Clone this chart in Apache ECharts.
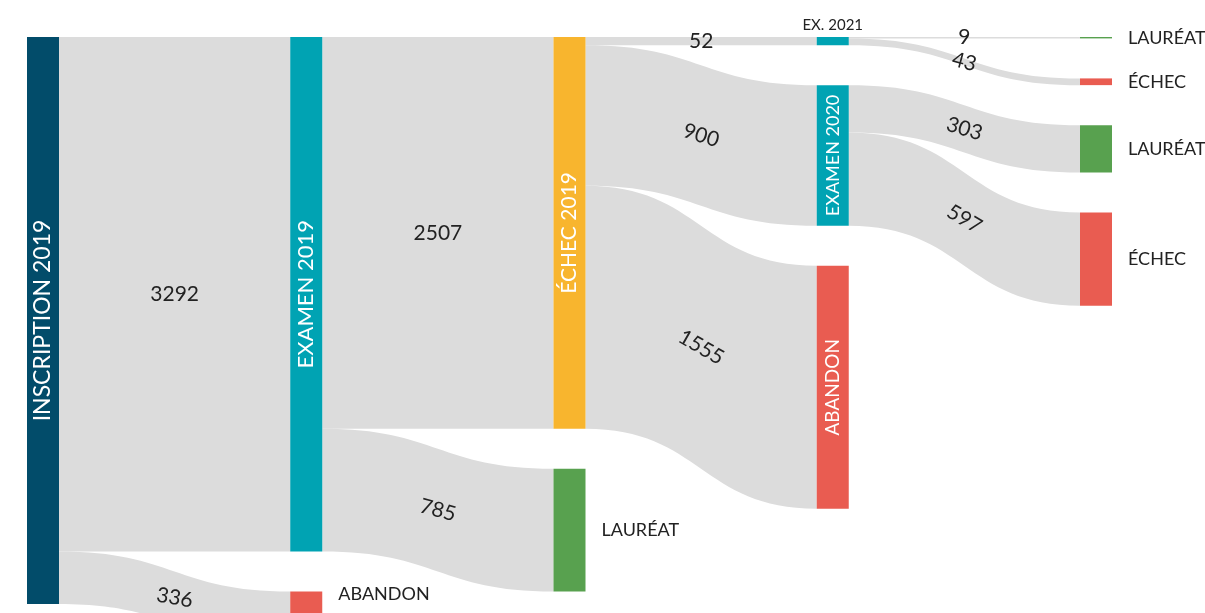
<!DOCTYPE html>
<html>
<head>
<meta charset="utf-8">
<script src="https://cdn.jsdelivr.net/npm/echarts@6/dist/echarts.min.js"></script>
<style>
	html, body { margin: 0; padding: 0; background: #fff; }
	#chart { width: 1205px; height: 613px; }
</style>
</head>
<body>
<div id="chart"></div>
<script>
// noeuds (id unique) et libellés affichés
var nodeIds = ['INSCRIPTION 2019', 'EXAMEN 2019', 'ABANDON 2019', 'ÉCHEC 2019', 'LAURÉAT 2019',
	'EX. 2021', 'EXAMEN 2020', 'ABANDON 2020', 'LAURÉAT 2021', 'ÉCHEC 2021', 'LAURÉAT 2020', 'ÉCHEC 2020'];
var nodeLabels = ['INSCRIPTION 2019', 'EXAMEN 2019', 'ABANDON', 'ÉCHEC 2019', 'LAURÉAT',
	'EX. 2021', 'EXAMEN 2020', 'ABANDON', 'LAURÉAT', 'ÉCHEC', 'LAURÉAT', 'ÉCHEC'];

// flux
var linkSources = ['INSCRIPTION 2019', 'INSCRIPTION 2019', 'EXAMEN 2019', 'EXAMEN 2019',
	'ÉCHEC 2019', 'ÉCHEC 2019', 'ÉCHEC 2019', 'EX. 2021', 'EX. 2021', 'EXAMEN 2020', 'EXAMEN 2020'];
var linkTargets = ['EXAMEN 2019', 'ABANDON 2019', 'ÉCHEC 2019', 'LAURÉAT 2019',
	'EX. 2021', 'EXAMEN 2020', 'ABANDON 2020', 'LAURÉAT 2021', 'ÉCHEC 2021', 'LAURÉAT 2020', 'ÉCHEC 2020'];
var linkValues = [3292, 336, 2507, 785, 52, 900, 1555, 9, 43, 303, 597];

// styles
var colors = {
	'INSCRIPTION 2019': '#024c6a',
	'EXAMEN 2019': '#00a3b3',
	'ABANDON 2019': '#e95c51',
	'ÉCHEC 2019': '#f8b52e',
	'LAURÉAT 2019': '#58a14f',
	'EX. 2021': '#00a3b3',
	'EXAMEN 2020': '#00a3b3',
	'ABANDON 2020': '#e95c51',
	'LAURÉAT 2021': '#58a14f',
	'ÉCHEC 2021': '#e95c51',
	'LAURÉAT 2020': '#58a14f',
	'ÉCHEC 2020': '#e95c51'
};
// libellés verticaux dans les noeuds, taille de police
var insideNodes = {
	'INSCRIPTION 2019': 23,
	'EXAMEN 2019': 22,
	'ÉCHEC 2019': 21,
	'EXAMEN 2020': 18,
	'ABANDON 2020': 19
};
var edgeLabelRotate = [0, -10, 0, -15, 0, -17, -30, 0, -15, -17, -30];
var fontFamily = 'Lato, "Open Sans", sans-serif';

var nodes = [];
for (var i = 0; i < nodeIds.length; i++) {
	var id = nodeIds[i];
	var label;
	if (insideNodes[id]) {
		label = { position: 'inside', rotate: 90, color: '#fff', fontSize: insideNodes[id], formatter: nodeLabels[i] };
	} else if (id === 'EX. 2021') {
		label = { position: 'top', distance: 4, color: '#222', fontSize: 15, formatter: nodeLabels[i] };
	} else {
		label = { position: 'right', distance: 16, color: '#222', fontSize: 18, formatter: nodeLabels[i] };
	}
	if (id === 'ABANDON 2019') {
		// le noeud déborde en bas, on remonte le libellé
		label.offset = [0, -24];
	}
	nodes.push({ name: id, itemStyle: { color: colors[id] }, label: label });
}

var links = [];
for (var j = 0; j < linkValues.length; j++) {
	links.push({
		source: linkSources[j],
		target: linkTargets[j],
		value: linkValues[j],
		edgeLabel: { rotate: edgeLabelRotate[j] }
	});
}

var chart = echarts.init(document.getElementById('chart'));
chart.setOption({
	animation: false,
	textStyle: { fontFamily: fontFamily },
	series: [{
		type: 'sankey',
		left: 27,
		top: 37,
		width: 1085,
		height: 607,
		nodeWidth: 32,
		nodeGap: 40,
		nodeAlign: 'left',
		layoutIterations: 0,
		draggable: false,
		emphasis: { disabled: true },
		label: { fontFamily: fontFamily },
		itemStyle: { borderWidth: 0 },
		lineStyle: { color: '#dcdcdc', opacity: 1, curveness: 0.5 },
		edgeLabel: {
			show: true,
			fontSize: 21,
			color: '#222',
			fontFamily: fontFamily,
			formatter: '{c}'
		},
		data: nodes,
		links: links
	}]
});
</script>
</body>
</html>
